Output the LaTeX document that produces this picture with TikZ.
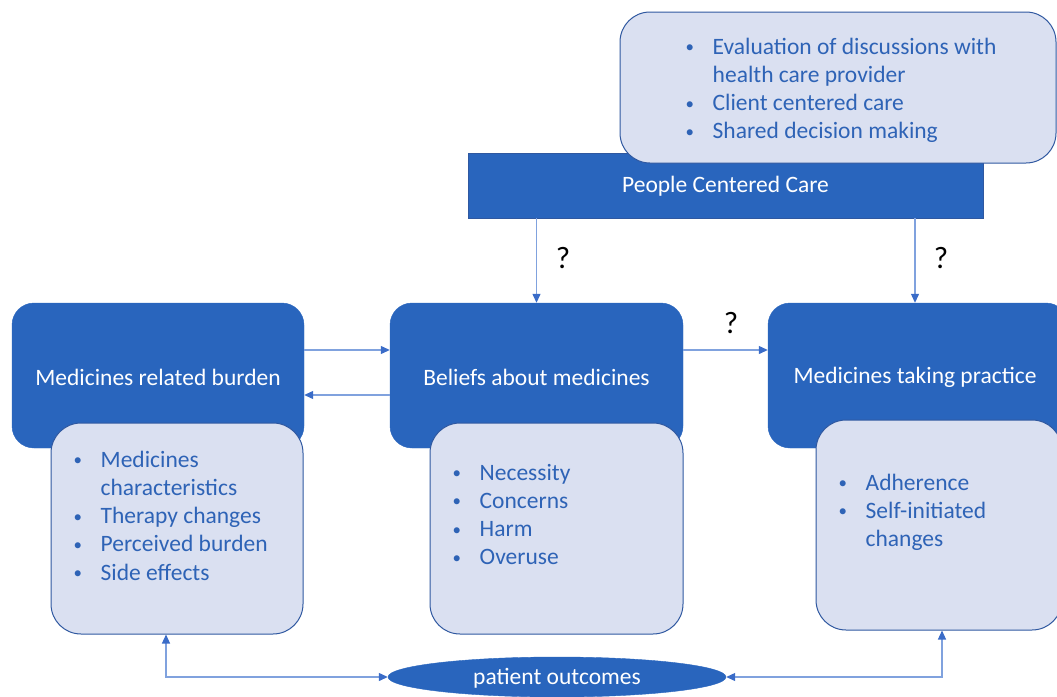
\documentclass[tikz,border=0pt]{standalone}
\usepackage{fontspec}
\usepackage{graphicx}
\setmainfont{Carlito}
\usetikzlibrary{arrows.meta,shapes.geometric}
\definecolor{darkfill}{RGB}{41,101,189}
\definecolor{lightfill}{RGB}{218,224,241}
\definecolor{lightborder}{RGB}{47,88,160}
\definecolor{listtext}{RGB}{46,99,182}
\definecolor{arrline}{RGB}{128,162,222}
\definecolor{arrhead}{RGB}{58,108,200}
\newcommand\mybul{\makebox[24.5pt][l]{\hspace{-2.5pt}\raisebox{1.6pt}{\scalebox{0.72}{\textbullet}}}}
\tikzset{
  darkbox/.style={draw=darkfill, fill=darkfill, rounded corners=22pt, inner sep=0pt},
  titletext/.style={text=white, font=\fontsize{23.5}{28}\selectfont, inner sep=0pt},
  lightbox/.style={draw=lightborder, line width=1pt, fill=lightfill, rounded corners=30pt, inner sep=0pt},
  listnode/.style={anchor=base west, inner sep=0pt, text=listtext, font=\fontsize{23.5}{28.3}\selectfont},
  arr/.style={draw=arrline, line width=1.2pt, -{Triangle[length=9pt,width=8pt,color=arrhead]}},
  darr/.style={draw=arrline, line width=1.2pt, {Triangle[length=9pt,width=8pt,color=arrhead]}-{Triangle[length=9pt,width=8pt,color=arrhead]}},
  qmark/.style={font=\fontsize{31}{34}\selectfont, text=black, inner sep=0pt}
}
\begin{document}
\begin{tikzpicture}[x=1pt,y=-1pt]
\useasboundingbox (0,0) rectangle (1057,696);
% dark boxes
\node[darkbox, minimum width=292pt, minimum height=145pt] (ldark) at (158,375.5) {};
\node[darkbox, minimum width=293pt, minimum height=145pt] (mdark) at (536.5,375.5) {};
\node[darkbox, minimum width=300pt, minimum height=145pt] (rdark) at (918,375.5) {};
\node[titletext] (ltitle) at (158,377) {Medicines related burden};
\node[titletext] (mtitle) at (536.5,377) {Beliefs about medicines};
\node[titletext] (rtitle) at (915,377) {Medicines taking practice};
% people centered care
\node[draw=lightborder, line width=0.6pt, fill=darkfill, minimum width=515pt, minimum height=65pt, inner sep=0pt] (pcc) at (725.5,185.5) {};
\node[titletext] (pcct) at (725.5,186) {People Centered Care};
% light boxes
\node[lightbox, minimum width=252pt, minimum height=211pt] (llight) at (177,528.5) {};
\node[lightbox, minimum width=253pt, minimum height=211pt] (mlight) at (556.5,528.5) {};
\node[lightbox, minimum width=246pt, minimum height=210pt] (rlight) at (939,525) {};
\node[lightbox, minimum width=436pt, minimum height=151pt] (tlight) at (838,87.5) {};
% lists
\node[listnode] (llist) at (76,467) {\begin{tabular}[t]{@{}l@{}l@{}}
\mybul & Medicines\\ & characteristics\\ \mybul & Therapy changes\\ \mybul & Perceived burden\\ \mybul & Side effects\end{tabular}};
\node[listnode] (mlist) at (455,480) {\begin{tabular}[t]{@{}l@{}l@{}}
\mybul & Necessity\\ \mybul & Concerns\\ \mybul & Harm\\ \mybul & Overuse\end{tabular}};
\node[listnode] (rlist) at (841,490) {\begin{tabular}[t]{@{}l@{}l@{}}
\mybul & Adherence\\ \mybul & Self-initiated\\ & changes\end{tabular}};
\node[listnode] (tlist) at (688,54) {\begin{tabular}[t]{@{}l@{}l@{}}
\mybul & Evaluation of discussions with\\ & health care provider\\ \mybul & Client centered care\\ \mybul & Shared decision making\end{tabular}};
% ellipse
\node[ellipse, draw=darkfill, fill=darkfill, minimum width=338pt, minimum height=40pt, inner sep=0pt] (po) at (557,677) {};
\node[titletext] (pot) at (557,678) {patient outcomes};
% arrows
\draw[arr] ([yshift=25.5pt]ldark.east) -- ([yshift=25.5pt]mdark.west);
\draw[arr] ([yshift=-19.5pt]mdark.west) -- ([yshift=-19.5pt]ldark.east);
\draw[arr] ([yshift=25.5pt]mdark.east) -- ([yshift=25.5pt]rdark.west);
\draw[arr] (pcc.south -| mdark.north) -- (mdark.north);
\draw[arr] ([xshift=189.5pt]pcc.south) -- ([xshift=189.5pt]pcc.south |- rdark.north);
\draw[darr] ([xshift=-11pt]llight.south) |- (po.west);
\draw[darr] ([xshift=3pt]rlight.south) |- (po.east);
% question marks
\node[qmark] (q1) at (563,258) {?};
\node[qmark] (q2) at (941,258) {?};
\node[qmark] (q3) at (731,323) {?};
\end{tikzpicture}
\end{document}
